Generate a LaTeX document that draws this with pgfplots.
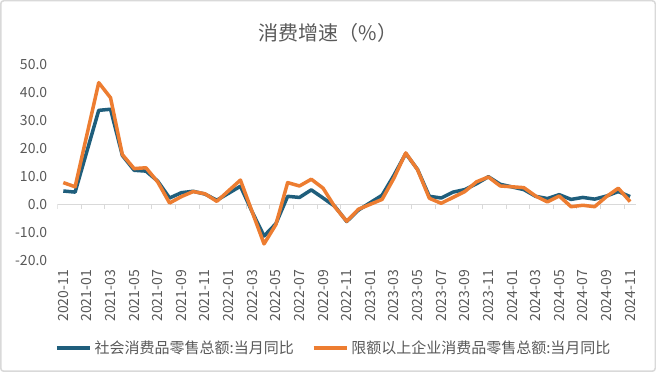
\documentclass[border=0pt]{standalone}
\usepackage{fontspec}
\setmainfont{Noto Sans CJK SC}
\usepackage{pgfplots}
\pgfplotsset{compat=1.18}
\definecolor{cblue}{HTML}{1F5E7C}
\definecolor{corange}{HTML}{ED7D31}
\definecolor{ctext}{HTML}{595959}
\definecolor{cgrid}{HTML}{D9D9D9}
\begin{document}
\begin{tikzpicture}[x=1pt,y=1pt]
\useasboundingbox (0,0) rectangle (656,372);
\fill[white] (0,0) rectangle (656,372);
\draw[cgrid, line width=1.5pt, rounded corners=3pt] (0.75,0.75) rectangle (655.25,371.25);
\node[text=ctext, font=\fontsize{20}{24}\selectfont] at (328,339) {消费增速（\%）};
\begin{axis}[
  scale only axis, width=578.6pt, height=196pt,
  at={(57.4pt,111pt)}, anchor=south west,
  xmin=-0.5, xmax=48.5, ymin=-20, ymax=50,
  axis line style={draw=none},
  ytick={-20,-10,...,50},
  xtick={0,2,...,48},
  xticklabels={2020-11,2021-01,2021-03,2021-05,2021-07,2021-09,2021-11,2022-01,2022-03,2022-05,2022-07,2022-09,2022-11,2023-01,2023-03,2023-05,2023-07,2023-09,2023-11,2024-01,2024-03,2024-05,2024-07,2024-09,2024-11},
  major tick length=0pt,
  /pgf/number format/assume math mode=true,
  yticklabel style={/pgf/number format/fixed, /pgf/number format/fixed zerofill, /pgf/number format/precision=1, anchor=east, inner sep=0pt},
  yticklabel shift=10pt,
  xticklabel style={rotate=90, anchor=east, inner sep=0pt},
  xticklabel shift=9pt,
  ticklabel style={font=\fontsize{14}{16}\selectfont, text=ctext},
  legend style={draw=none, fill=none, at={(-0.004,-0.445)}, anchor=west, inner sep=0pt, outer sep=0pt, font=\fontsize{15}{18}\selectfont, legend columns=2, nodes={inner sep=0pt, text=ctext}, /tikz/every odd column/.append style={column sep=3pt}, /tikz/every even column/.append style={column sep=18pt}},
  legend image code/.code={\draw[#1, line width=3.5pt] (0pt,0pt) -- (33pt,0pt);},
]
\draw[cgrid, line width=1pt] (axis cs:-0.5,0) -- (axis cs:48.5,0);
\pgfplotsinvokeforeach{-0.5,1.5,...,48.5}{\draw[cgrid, line width=1pt] (axis cs:#1,0) -- ++(0pt,-4pt);}
\addplot[cblue, line width=3.5pt, line join=round] coordinates {
(0,5.0) (1,4.6) (3,33.8) (4,34.2) (5,17.7) (6,12.4) (7,12.1) (8,8.5) (9,2.5) (10,4.4) (11,4.9) (12,3.9) (13,1.7)
(15,6.7) (16,-2.5) (17,-11.1) (18,-6.7) (19,3.1) (20,2.7) (21,5.4) (22,2.5) (23,-0.5) (24,-5.9) (25,-1.8)
(27,3.5) (28,10.6) (29,18.4) (30,12.7) (31,3.1) (32,2.5) (33,4.6) (34,5.5) (35,7.6) (36,10.1) (37,7.4)
(39,5.5) (40,3.1) (41,2.3) (42,3.7) (43,2.0) (44,2.7) (45,2.1) (46,3.2) (47,4.8) (48,3.0)
};
\addlegendentry{社会消费品零售总额:当月同比}
\addplot[corange, line width=3.5pt, line join=round] coordinates {
(0,8.0) (1,6.5) (3,43.7) (4,38.3) (5,18.0) (6,13.0) (7,13.3) (8,8.2) (9,0.7) (10,3.0) (11,4.8) (12,4.0) (13,1.3)
(15,8.9) (16,-2.5) (17,-13.9) (18,-7.0) (19,8.0) (20,6.8) (21,9.2) (22,6.0) (23,-0.7) (24,-5.8) (25,-1.5)
(27,2.0) (28,9.6) (29,18.6) (30,12.6) (31,2.4) (32,0.6) (33,2.7) (34,4.8) (35,8.3) (36,10.0) (37,6.8)
(39,6.2) (40,3.2) (41,1.1) (42,3.2) (43,-0.6) (44,-0.1) (45,-0.6) (46,3.0) (47,6.0) (48,1.2)
};
\addlegendentry{限额以上企业消费品零售总额:当月同比}
\end{axis}
\end{tikzpicture}
\end{document}
